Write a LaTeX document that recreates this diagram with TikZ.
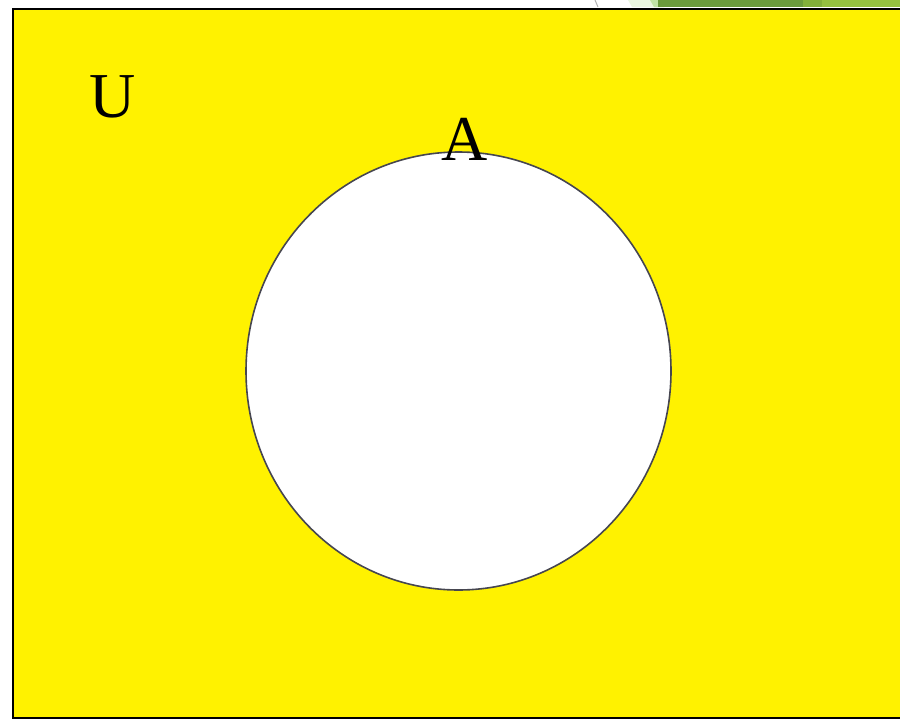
\documentclass[tikz,border=0pt]{standalone}
\usepackage{fontspec}
\setmainfont{Liberation Serif}
\begin{document}
\begin{tikzpicture}[x=1pt,y=-1pt,
  lbl/.style={inner sep=0pt,font=\fontsize{64}{64}\selectfont,text=black}]
\useasboundingbox (0,0) rectangle (900,720);
\fill[white] (0,0) rectangle (900,720);
% slide decoration at top
\draw[gray!60,line width=1pt] (595,0) -- (598,7);
\fill[green!40!olive!12!white] (628,0) -- (660,0) -- (662,7) -- (632,7) -- cycle;
\fill[green!40!olive!35!white] (650,0) -- (662,0) -- (664,7) -- (654,7) -- cycle;
\fill[fill={rgb,255:red,106;green,154;blue,60}] (658,0) rectangle (805,7);
\fill[fill={rgb,255:red,130;green,176;blue,58}] (803,0) rectangle (822,7);
\fill[fill={rgb,255:red,148;green,193;blue,64}] (822,0) rectangle (900,7);
% universe
\draw[line width=2pt,fill={rgb,255:red,255;green,242;blue,0}] (13,9) rectangle (905,718);
\node[lbl,anchor=base] (U) at (113,117) {U};
% set A
\draw[fill=white,draw={rgb,255:red,70;green,70;blue,80},line width=1.6pt] (458.5,371) ellipse [x radius=212.5,y radius=219];
\node[lbl,anchor=base] (A) at (465,160) {A};
\end{tikzpicture}
\end{document}
